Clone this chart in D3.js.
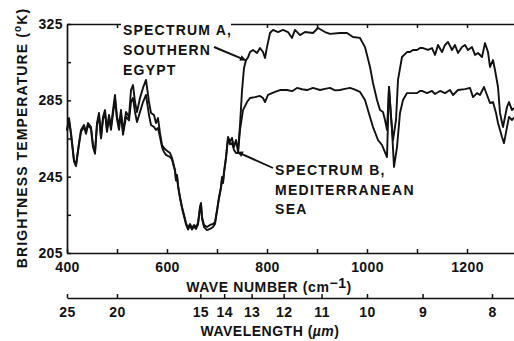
<!DOCTYPE html>
<html>
<head>
<meta charset="utf-8">
<script src="https://cdn.jsdelivr.net/npm/d3@7"></script>
<style>
  html, body { margin: 0; padding: 0; background: #fff; }
  svg { display: block; }
  text { font-family: "Liberation Sans", Arial, sans-serif; font-weight: bold; fill: #111; }
</style>
</head>
<body>
<svg id="chart" width="514" height="341"></svg>
<script>
// Spectrum A (Southern Egypt): wave number (cm^-1) and brightness temperature (K)
const wavenumberA = [400,404,408,414,418,424,428,434,438,442,448,452,456,460,464,468,472,476,480,484,488,492,496,500,504,508,512,518,524,528,532,536,540,546,552,558,564,568,574,578,582,586,590,594,598,606,610,616,618,620,622,626,630,634,638,642,646,650,654,658,662,666,668,670,674,680,686,692,696,700,704,708,710,712,714,718,722,726,730,734,738,742,746,750,754,758,762,766,772,780,786,792,796,800,806,812,822,832,842,850,856,866,876,892,902,916,926,946,960,972,986,996,1006,1012,1020,1026,1032,1036,1040,1044,1048,1052,1058,1062,1070,1080,1086,1092,1100,1106,1112,1122,1130,1136,1142,1150,1156,1162,1170,1176,1182,1190,1196,1202,1210,1216,1222,1230,1236,1242,1246,1252,1256,1262,1266,1272,1280,1284,1290,1294];
const temperatureA = [269.5,275.7,267.9,253.7,251.1,262.6,269.5,272.1,268.4,273.1,271.0,261.6,257.9,273.1,278.4,265.8,276.3,279.9,269.5,277.3,271.0,279.9,287.8,276.3,272.0,279.9,268.4,278.9,276.3,290.4,293.0,284.1,278.9,286.2,291.5,295.7,284.1,278.4,277.3,273.1,275.7,267.9,261.6,260.0,259.0,257.4,254.8,248.5,243.3,245.9,240.6,234.3,229.1,225.0,220.7,218.1,220.2,218.1,219.7,218.6,220.7,229.1,231.2,223.9,219.7,218.6,219.7,220.2,221.2,227.5,234.3,239.6,244.8,242.2,247.5,255.3,265.8,263.2,265.3,260.5,264.2,258.0,272.0,290.0,302.0,306.0,307.5,310.3,311.4,309.8,312.4,310.3,307.2,312.9,320.3,321.9,320.8,321.9,320.8,317.7,321.9,319.2,320.8,320.3,322.9,320.8,319.8,320.3,320.3,318.2,317.7,312.9,302.5,294.1,285.2,279.9,278.9,274.7,269.5,292.0,276.3,264.2,274.7,295.7,307.7,310.3,310.3,311.4,311.4,312.4,312.4,311.4,312.4,308.8,314.0,310.3,314.0,315.6,311.4,314.0,309.8,312.9,314.0,311.4,312.9,308.8,309.8,307.7,315.0,310.3,302.5,306.1,300.9,292.0,278.4,271.0,281.5,284.1,279.9,281.0];

// Spectrum B (Mediterranean Sea)
const wavenumberB = [400,404,408,414,418,424,428,434,438,442,448,452,456,460,464,468,472,476,480,484,488,492,496,500,504,508,512,518,524,528,532,536,540,546,552,558,564,568,574,578,582,586,590,594,598,606,610,616,618,620,622,626,630,634,638,642,646,650,654,658,662,666,668,670,674,680,686,692,696,700,704,708,710,712,714,718,722,726,730,734,738,742,746,752,760,766,776,786,792,796,802,816,826,840,850,860,870,880,892,906,916,926,936,946,956,966,976,986,996,1006,1012,1022,1030,1034,1040,1044,1050,1054,1060,1066,1072,1080,1092,1100,1106,1110,1120,1130,1136,1146,1156,1166,1172,1182,1196,1206,1212,1220,1226,1234,1240,1246,1252,1258,1262,1270,1274,1280,1284,1290,1294];
const temperatureB = [269.0,274.5,267.0,253.0,250.5,262.0,268.5,271.0,267.5,272.0,270.0,260.5,257.0,272.0,277.0,265.0,275.0,278.5,268.5,276.0,269.5,278.0,285.5,275.0,269.5,278.0,267.0,276.5,274.5,284.1,286.2,278.9,273.6,278.9,284.1,287.8,277.3,272.1,271.0,269.5,270.5,265.8,260.5,257.9,256.4,255.3,254.0,248.0,243.0,245.5,240.0,233.8,228.5,224.3,220.0,217.3,219.3,217.3,218.9,217.6,220.0,228.5,230.6,223.0,218.6,217.0,217.6,218.6,220.2,226.8,233.6,239.0,244.0,241.6,246.8,254.6,265.0,262.0,262.6,259.0,257.4,257.4,269.5,279.9,284.1,286.2,286.7,287.3,286.2,284.1,287.8,289.4,290.4,290.4,289.8,291.5,290.8,290.4,291.5,290.4,291.0,291.5,290.2,290.4,291.0,291.5,290.6,289.4,285.2,276.3,271.0,264.2,261.6,259.0,255.3,292.0,269.5,250.1,260.5,278.4,285.2,288.8,288.8,288.8,289.9,289.9,288.8,289.9,288.3,289.9,288.8,290.4,287.8,290.4,290.9,291.5,286.7,288.8,287.8,292.0,287.8,283.6,284.1,278.4,273.1,265.8,262.6,271.0,276.3,274.7,276.0];

// Axis ticks and labels
const wavenumberTicks = [400,500,600,700,800,900,1000,1100,1200];
const wavenumberLabels = [400,600,800,1000,1200];
const topTicks = [500,800,900,1000,1100,1200];
const temperatureTicks = [205,225,245,265,285,305,325];
const temperatureLabels = [205,245,285,325];
const wavelengthTicks = [25,20,15,14,13,12,11,10,9,8];

const svg = d3.select("#chart");
svg.append("rect").attr("width", 514).attr("height", 341).attr("fill", "#fff");

const x = d3.scaleLinear().domain([400, 1294]).range([67, 514]);
const y = d3.scaleLinear().domain([205, 325]).range([253, 24]);

function styleAxis(g) {
  g.selectAll("path.domain").attr("stroke", "#111").attr("stroke-width", 1.7);
  g.selectAll(".tick line").attr("stroke", "#111").attr("stroke-width", 1.5);
  g.selectAll(".tick text")
    .attr("font-family", "'Liberation Sans', Arial, sans-serif")
    .attr("font-weight", "bold").attr("font-size", 14).attr("fill", "#111")
    .attr("letter-spacing", 0.4);
}

// bottom wave-number axis
svg.append("g").attr("transform", "translate(0,253)")
  .call(d3.axisBottom(x).tickValues(wavenumberTicks).tickSize(-4).tickSizeOuter(0).tickPadding(9)
    .tickFormat(d => wavenumberLabels.includes(d) ? d : ""))
  .call(styleAxis);

// top frame with ticks
svg.append("g").attr("transform", "translate(0,24)")
  .call(d3.axisTop(x).tickValues(topTicks).tickSize(-4).tickSizeOuter(0).tickFormat(""))
  .call(styleAxis);

// left temperature axis
svg.append("g").attr("transform", "translate(67,0)")
  .call(d3.axisLeft(y).tickValues(temperatureTicks).tickSize(-4).tickSizeOuter(0).tickPadding(4)
    .tickFormat(d => temperatureLabels.includes(d) ? d : ""))
  .call(styleAxis);

// wavelength axis (µm), placed by wave number = 10000 / wavelength
svg.append("g").attr("transform", "translate(0,298)")
  .call(d3.axisBottom(x).tickValues(wavelengthTicks.map(l => 1e4 / l)).tickSize(-4).tickSizeOuter(0).tickPadding(9)
    .tickFormat(v => Math.round(1e4 / v)))
  .call(styleAxis);

// spectra
const line = d3.line().x(d => x(d[0])).y(d => y(d[1]));
const seriesA = wavenumberA.map((w, i) => [w, temperatureA[i]]);
const seriesB = wavenumberB.map((w, i) => [w, temperatureB[i]]);
svg.append("path").datum(seriesB).attr("d", line)
  .attr("fill", "none").attr("stroke", "#111").attr("stroke-width", 1.9).attr("stroke-linejoin", "round");
svg.append("path").datum(seriesA).attr("d", line)
  .attr("fill", "none").attr("stroke", "#111").attr("stroke-width", 1.9).attr("stroke-linejoin", "round");

// arrowhead marker
svg.append("defs").append("marker")
  .attr("id", "head").attr("viewBox", "0 0 10 10").attr("refX", 10).attr("refY", 5)
  .attr("markerWidth", 9).attr("markerHeight", 6).attr("markerUnits", "userSpaceOnUse")
  .attr("orient", "auto")
  .append("path").attr("d", "M0,0L10,5L0,10z").attr("fill", "#111");

// clear the frame behind the first annotation line
svg.append("rect").attr("x", 121).attr("y", 18).attr("width", 110).attr("height", 12).attr("fill", "#fff");

// annotations
const noteA = ["SPECTRUM A,", "SOUTHERN", "EGYPT"];
const noteB = ["SPECTRUM B,", "MEDITERRANEAN", "SEA"];
noteA.forEach((t, i) => svg.append("text").attr("x", 123).attr("y", 35 + i * 20)
  .attr("font-size", 14).attr("letter-spacing", 1.2).text(t));
noteB.forEach((t, i) => svg.append("text").attr("x", 275).attr("y", 175 + i * 19.5)
  .attr("font-size", 14).attr("letter-spacing", 1.3).text(t));

svg.append("line").attr("x1", 214).attr("y1", 47).attr("x2", x(758)).attr("y2", y(306))
  .attr("stroke", "#111").attr("stroke-width", 1.9).attr("marker-end", "url(#head)");
svg.append("line").attr("x1", 273).attr("y1", 168).attr("x2", x(740)).attr("y2", y(258))
  .attr("stroke", "#111").attr("stroke-width", 1.9).attr("marker-end", "url(#head)");

// axis titles
const yTitle = svg.append("text").attr("transform", "translate(27,138) rotate(-90)")
  .attr("text-anchor", "middle").attr("font-size", 14).attr("letter-spacing", 1.1);
yTitle.append("tspan").text("BRIGHTNESS TEMPERATURE (");
yTitle.append("tspan").attr("font-size", 10).attr("dy", -6).text("o");
yTitle.append("tspan").attr("dy", 6).text("K)");

const xTitle = svg.append("text").attr("x", 269).attr("y", 292)
  .attr("text-anchor", "middle").attr("font-size", 14).attr("letter-spacing", 0.6);
xTitle.append("tspan").text("WAVE NUMBER (cm");
xTitle.append("tspan").attr("dy", -4).text("\u22121");
xTitle.append("tspan").attr("dy", 4).text(")");

const lTitle = svg.append("text").attr("x", 270).attr("y", 336)
  .attr("text-anchor", "middle").attr("font-size", 14).attr("letter-spacing", 0.5);
lTitle.append("tspan").text("WAVELENGTH (");
lTitle.append("tspan").attr("font-style", "italic").text("\u00b5m");
lTitle.append("tspan").text(")");
</script>
</body>
</html>
